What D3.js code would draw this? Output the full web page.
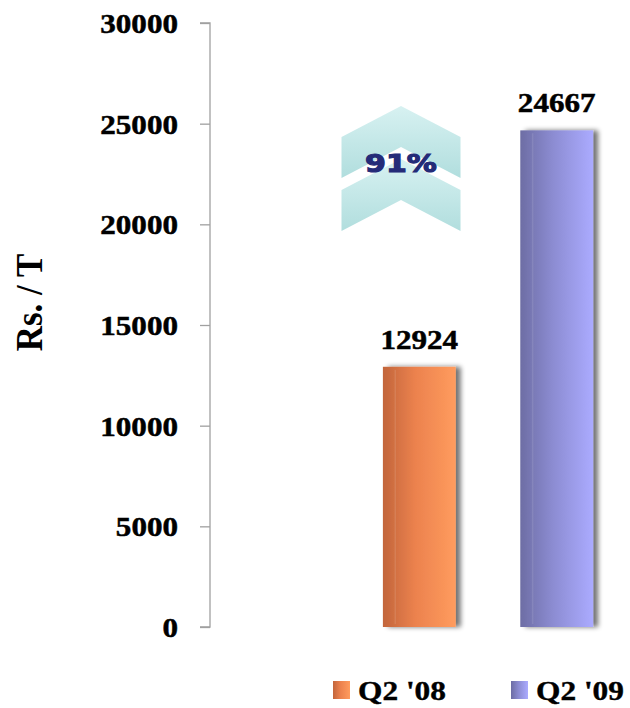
<!DOCTYPE html>
<html>
<head>
<meta charset="utf-8">
<script src="https://cdn.jsdelivr.net/npm/d3@7"></script>
<style>
  html, body { margin: 0; padding: 0; background: #fff; }
  svg { display: block; }
</style>
</head>
<body>
<svg id="chart" width="630" height="708"></svg>
<script>
// Price per tonne, second quarter comparison
const categories = ["Q2 '08", "Q2 '09"];
const values = [12924, 24667];
const yTicks = [0, 5000, 10000, 15000, 20000, 25000, 30000];
const growthLabel = "91%";
const yTitle = "Rs. / T";

const seriesColors = [
  { dark: "#c2653b", mid: "#ec824e", light: "#ff9c5e" },
  { dark: "#6d6da4", mid: "#8c8cd2", light: "#ababff" }
];

const svg = d3.select("#chart");
const defs = svg.append("defs");

// horizontal shading for bars and legend swatches
seriesColors.forEach((c, i) => {
  const g = defs.append("linearGradient").attr("id", "barGrad" + i)
    .attr("x1", "0").attr("x2", "1").attr("y1", "0").attr("y2", "0");
  g.append("stop").attr("offset", "0").attr("stop-color", c.dark);
  g.append("stop").attr("offset", "0.45").attr("stop-color", c.mid);
  g.append("stop").attr("offset", "1").attr("stop-color", c.light);
});

// soft shadow cast to the right of each bar
const sh = defs.append("filter").attr("id", "barShadow")
  .attr("x", "-20%").attr("y", "-5%").attr("width", "150%").attr("height", "110%");
sh.append("feGaussianBlur").attr("in", "SourceAlpha").attr("stdDeviation", 2.5).attr("result", "blur");
sh.append("feOffset").attr("in", "blur").attr("dx", 5).attr("dy", 0).attr("result", "off");
sh.append("feComponentTransfer").attr("in", "off").attr("result", "shade")
  .append("feFuncA").attr("type", "linear").attr("slope", 0.55);
const merge = sh.append("feMerge");
merge.append("feMergeNode").attr("in", "shade");
merge.append("feMergeNode").attr("in", "SourceGraphic");

// chevron fill
const cg = defs.append("linearGradient").attr("id", "chevGrad")
  .attr("x1", "0").attr("x2", "0").attr("y1", "0").attr("y2", "1");
cg.append("stop").attr("offset", "0").attr("stop-color", "#d3f0f0");
cg.append("stop").attr("offset", "1").attr("stop-color", "#a8dada");

const y = d3.scaleLinear().domain([0, 30000]).range([627, 23]);
const x = d3.scaleBand().domain(categories).range([245.5, 730.5])
  .paddingInner(0.47).paddingOuter(1);

const serif = "'Liberation Serif', 'Times New Roman', serif";

// y axis
const axisX = 210;
const yAxis = svg.append("g")
  .attr("transform", `translate(${axisX},0)`)
  .call(d3.axisLeft(y).tickValues(yTicks).tickSize(10).tickPadding(26)
    .tickFormat(d3.format("d")));
yAxis.selectAll("path, line").attr("stroke", "#a0a0a0").attr("stroke-width", 1.3);
yAxis.select(".domain").attr("d", `M-10,${y(30000)}H0V${y(0)}H-10`);
yAxis.selectAll("text")
  .attr("font-family", serif).attr("font-weight", "bold").attr("font-size", 28)
  .attr("fill", "#000").attr("stroke", "#000").attr("stroke-width", 0.5)
  .attr("x", 0).attr("dy", "0.34em")
  .attr("transform", "translate(-32,0) scale(1.11,1)");

// axis title
svg.append("text")
  .attr("transform", `translate(42,${(253 + 352) / 2}) scale(1.1,1) rotate(-90)`)
  .attr("text-anchor", "middle")
  .attr("font-family", serif).attr("font-weight", "bold").attr("font-size", 35)
  .attr("fill", "#000")
  .text(yTitle);

// bars
const bars = svg.append("g");
bars.selectAll("rect").data(values).join("rect")
  .attr("x", (d, i) => x(categories[i]))
  .attr("y", d => y(d))
  .attr("width", x.bandwidth())
  .attr("height", d => y(0) - y(d))
  .attr("fill", (d, i) => `url(#barGrad${i})`)
  .attr("filter", "url(#barShadow)");

// faint highlight stripe near the left edge of each bar
bars.selectAll("line.stripe").data(values).join("line")
  .attr("class", "stripe")
  .attr("x1", (d, i) => x(categories[i]) + x.bandwidth() * 0.17)
  .attr("x2", (d, i) => x(categories[i]) + x.bandwidth() * 0.17)
  .attr("y1", d => y(d) + 3).attr("y2", y(0) - 3)
  .attr("stroke", "#ffffff").attr("stroke-opacity", 0.1).attr("stroke-width", 1.5);

// value labels
svg.append("g").selectAll("text").data(values).join("text")
  .attr("transform", (d, i) =>
    `translate(${x(categories[i]) + x.bandwidth() / 2},${y(d) - 18}) scale(1.11,1)`)
  .attr("text-anchor", "middle")
  .attr("font-family", serif).attr("font-weight", "bold").attr("font-size", 28)
  .attr("fill", "#000").attr("stroke", "#000").attr("stroke-width", 0.5)
  .text(d => d);

// growth chevrons
const cx = 401, halfW = 59.5, drop = 31, side = 41;
function chevron(top) {
  return [
    [cx, top], [cx + halfW, top + drop], [cx + halfW, top + drop + side],
    [cx, top + side], [cx - halfW, top + drop + side], [cx - halfW, top + drop]
  ];
}
const chevTops = [106, 159];
svg.append("g").selectAll("path").data(chevTops).join("path")
  .attr("d", t => d3.line()(chevron(t)) + "Z")
  .attr("fill", "url(#chevGrad)")
  .attr("opacity", 0.9);

svg.append("text")
  .attr("transform", `translate(${cx},172) scale(1.2,1)`)
  .attr("text-anchor", "middle")
  .attr("font-family", "'DejaVu Sans', sans-serif").attr("font-weight", "bold")
  .attr("font-size", 25).attr("fill", "#242b78")
  .attr("stroke", "#242b78").attr("stroke-width", 1.2)
  .text(growthLabel);

// legend
const legendX = [333, 511];
const lg = svg.append("g").selectAll("g").data(categories).join("g")
  .attr("transform", (d, i) => `translate(${legendX[i]},681)`);
lg.append("rect").attr("width", 17).attr("height", 18)
  .attr("fill", (d, i) => `url(#barGrad${i})`);
lg.append("text")
  .attr("transform", "translate(25,19) scale(1.12,1)")
  .attr("font-family", serif).attr("font-weight", "bold").attr("font-size", 28)
  .attr("fill", "#000").attr("stroke", "#000").attr("stroke-width", 0.4)
  .text(d => d);
</script>
</body>
</html>
